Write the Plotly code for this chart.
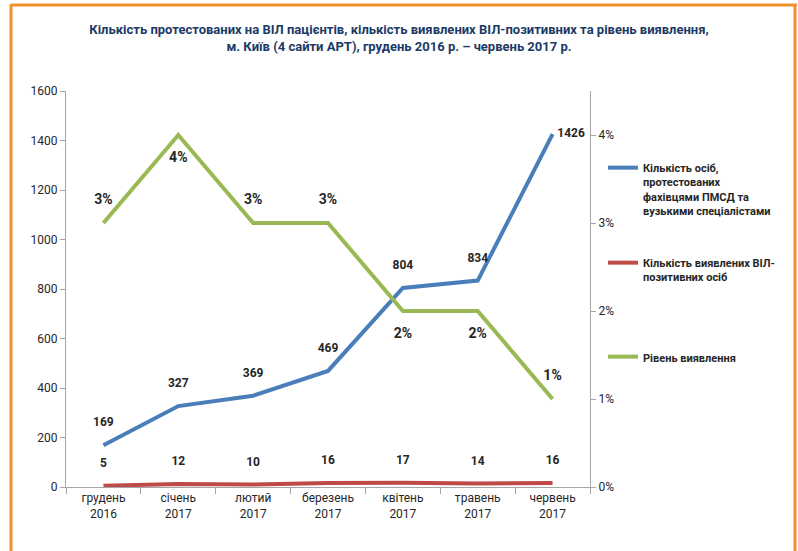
import plotly.graph_objects as go

months = ["грудень<br>2016", "січень<br>2017", "лютий<br>2017", "березень<br>2017",
          "квітень<br>2017", "травень<br>2017", "червень<br>2017"]
tested = [169, 327, 369, 469, 804, 834, 1426]
positive = [5, 12, 10, 16, 17, 14, 16]
rate = [0.03, 0.04, 0.03, 0.03, 0.02, 0.02, 0.01]
rate_labels = ["3%", "4%", "3%", "3%", "2%", "2%", "1%"]

blue_pos = ["top center"] * 6 + ["middle right"]
green_pos = ["top center", "bottom center", "top center", "top center",
             "bottom center", "bottom center", "top center"]

FONT = "Roboto, Arial"
DARK = "#262626"
NOMARK = dict(width=0, color="rgba(0,0,0,0)")

fig = go.Figure()
fig.add_trace(go.Scatter(
    x=months, y=tested, name="Кількість осіб,<br>протестованих<br>фахівцями ПМСД та<br>вузькими спеціалістами",
    mode="lines+markers+text", line=dict(color="#4A7EBB", width=4),
    marker=dict(size=[24] * 6 + [6], color="rgba(0,0,0,0)", line=NOMARK),
    text=[str(v) for v in tested], textposition=blue_pos,
    textfont=dict(family=FONT, size=12, color=DARK, weight="bold"),
    legend="legend", cliponaxis=False))
fig.add_trace(go.Scatter(
    x=months, y=positive, name="Кількість виявлених ВІЛ-<br>позитивних осіб",
    mode="lines+markers+text", line=dict(color="#BE4B48", width=4),
    marker=dict(size=24, color="rgba(0,0,0,0)", line=NOMARK),
    text=[str(v) for v in positive], textposition="top center",
    textfont=dict(family=FONT, size=12, color=DARK, weight="bold"),
    legend="legend2", cliponaxis=False))
fig.add_trace(go.Scatter(
    x=months, y=rate, name="Рівень виявлення", yaxis="y2",
    mode="lines+markers+text", line=dict(color="#98B954", width=4),
    marker=dict(size=24, color="rgba(0,0,0,0)", line=NOMARK),
    text=rate_labels, textposition=green_pos,
    textfont=dict(family=FONT, size=14, color=DARK, weight="bold"),
    legend="legend3", cliponaxis=False))

legfont = dict(family=FONT, size=11, color=DARK, weight="bold")
leg_common = dict(font=legfont, x=603 / 798, xref="container", yref="container",
                  xanchor="left", yanchor="top",
                  bgcolor="rgba(0,0,0,0)", valign="top", itemwidth=30)

fig.update_layout(
    width=798, height=551,
    margin=dict(l=66, r=208, t=91, b=64, autoexpand=False),
    paper_bgcolor="white", plot_bgcolor="white",
    title=dict(text="Кількість протестованих на ВІЛ пацієнтів, кількість виявлених ВІЛ-позитивних та рівень виявлення,<br>м. Київ (4 сайти АРТ), грудень 2016 р. – червень 2017 р.",
               x=0.5, xref="container", xanchor="center", y=1 - 34 / 551, yanchor="middle",
               font=dict(family=FONT, size=13, color="#1C3A66", weight="bold")),
    showlegend=True,
    legend=dict(y=1 - 154 / 551, **leg_common),
    legend2=dict(y=1 - 249 / 551, **leg_common),
    legend3=dict(y=1 - 343 / 551, **leg_common),
    xaxis=dict(type="category", range=[-0.5, 6.5], showline=True, linecolor="#A6A6A6",
               ticks="outside", tickson="boundaries", ticklen=6, tickcolor="#A6A6A6",
               showgrid=False, tickfont=dict(family=FONT, size=12, color=DARK)),
    yaxis=dict(range=[0, 1600], dtick=200, showline=True, linecolor="#A6A6A6",
               ticks="outside", ticklen=5, tickcolor="#A6A6A6", showgrid=False,
               zeroline=False, tickfont=dict(family=FONT, size=12, color=DARK)),
    yaxis2=dict(range=[0, 0.045], overlaying="y", side="right",
                tickvals=[0, 0.01, 0.02, 0.03, 0.04], tickformat=".0%",
                showline=True, linecolor="#A6A6A6", ticks="outside", ticklen=5,
                tickcolor="#A6A6A6", showgrid=False, zeroline=False,
                tickfont=dict(family=FONT, size=12, color=DARK)),
)

orange = "#F0922E"
px0, pw, py0, ph = 66, 524, 487, 396
def xp(px): return (px - px0) / pw
def yp(py): return (py0 - py) / ph
fig.add_shape(type="line", xref="paper", yref="paper", x0=xp(11), x1=xp(797), y0=yp(5), y1=yp(5),
              line=dict(color=orange, width=3))
fig.add_shape(type="line", xref="paper", yref="paper", x0=xp(11), x1=xp(11), y0=yp(4), y1=yp(560),
              line=dict(color=orange, width=3))
fig.add_shape(type="line", xref="paper", yref="paper", x0=xp(795), x1=xp(795), y0=yp(4), y1=yp(560),
              line=dict(color=orange, width=3))

fig.write_html("out.html")
